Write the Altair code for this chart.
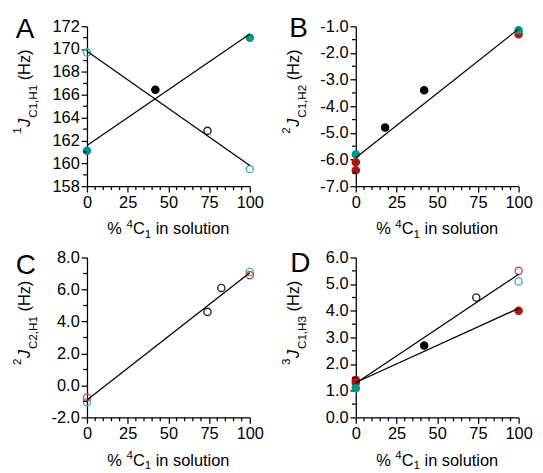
import altair as alt
import pandas as pd

FONT = "Liberation Sans"
W, H = 169, 166
FS = 17      # main text size
SS = 12      # sub/superscript size

COLORS = {
    "teal": ("#00968a", "#00968a"),
    "teal_open": ("transparent", "#35b3b3"),
    "red": ("#b0140e", "#b0140e"),
    "red_open": ("transparent", "#cc4c46"),
    "black": ("#000000", "#000000"),
    "black_open": ("transparent", "#222222"),
}

X_MAJOR = [0, 25, 50, 75, 100]
X_MINOR = [5, 10, 15, 20, 30, 35, 40, 45, 55, 60, 65, 70, 80, 85, 90, 95]

# ---- Panel A: 1J C1,H1
A_X = [0, 42, 100, 0, 74, 100]
A_Y = [161.1, 166.45, 171.0, 169.7, 162.85, 159.5]
A_STYLE = ["teal", "black", "teal", "teal_open", "black_open", "teal_open"]
A_FIT = ["a", "a", "a", "b", "b", "b"]
A_YMAJOR = [158, 160, 162, 164, 166, 168, 170, 172]
A_YMINOR = [159, 161, 163, 165, 167, 169, 171]

# ---- Panel B: 2J C1,H2
B_X = [0, 0, 0, 18, 42, 100, 100]
B_Y = [-6.1, -6.4, -5.8, -4.8, -3.4, -1.3, -1.15]
B_STYLE = ["red", "red", "teal", "black", "black", "red", "teal"]
B_FIT = ["a"] * 7
B_YMAJOR = [-7, -6, -5, -4, -3, -2, -1]
B_YMINOR = [-6.5, -5.5, -4.5, -3.5, -2.5, -1.5]

# ---- Panel C: 2J C2,H1
C_X = [0, 0, 74, 82.5, 100, 100]
C_Y = [-1.05, -0.75, 4.6, 6.1, 7.1, 6.9]
C_STYLE = ["teal_open", "red_open", "black_open", "black_open", "teal_open", "red_open"]
C_FIT = ["a"] * 6
C_YMAJOR = [-2, 0, 2, 4, 6, 8]
C_YMINOR = [-1, 1, 3, 5, 7]

# ---- Panel D: 3J C1,H3
D_X = [0, 0, 0, 42, 100, 74, 100, 100]
D_Y = [1.3, 1.4, 1.1, 2.7, 4.0, 4.5, 5.5, 5.1]
D_STYLE = ["red", "red", "teal", "black", "red", "black_open", "red_open", "teal_open"]
D_FIT = ["a|b", "a|b", "a|b", "a", "a", "b", "b", "b"]
D_YMAJOR = [0, 1, 2, 3, 4, 5, 6]
D_YMINOR = [0.5, 1.5, 2.5, 3.5, 4.5, 5.5]

ADV = {"%": 0.889, " ": 0.278, "C": 0.722, "H": 0.722, "J": 0.5, ",": 0.278,
       "(": 0.333, ")": 0.333, "z": 0.5, "i": 0.222, "n": 0.556, "s": 0.5,
       "o": 0.556, "l": 0.222, "u": 0.556, "t": 0.278}


def tw(s, size):
    return sum(ADV.get(c, 0.556) for c in s) * size


def axis_common():
    return dict(grid=False, domainColor="black", tickColor="black", domainWidth=1.3,
                tickWidth=1.3, tickSize=6, labelFont=FONT, labelFontSize=FS,
                labelColor="black", title=None, labelOverlap=False, labelFlush=False)


def text_piece(txt, x, y, size, italic=False, angle=0, align="left"):
    df = pd.DataFrame({"t": [txt]})
    kw = dict(font=FONT, fontSize=size, align=align, baseline="alphabetic",
              color="black", angle=angle)
    if italic:
        kw["fontStyle"] = "italic"
    return alt.Chart(df).mark_text(**kw).encode(
        text="t:N", x=alt.value(x), y=alt.value(y))


def ytitle(sup, sub, top, bx=-59):
    total = tw(sup, SS) + tw("J", FS) + 1.5 + tw(sub, SS) + tw(" (Hz)", FS)
    y = top + total
    parts = [text_piece(sup, bx - 9, y, SS, angle=270)]
    y -= tw(sup, SS) + 0.5
    parts.append(text_piece("J", bx, y, FS, italic=True, angle=270))
    y -= tw("J", FS) + 1
    parts.append(text_piece(sub, bx + 7, y, SS, angle=270))
    y -= tw(sub, SS) + tw(" ", FS)
    parts.append(text_piece("(Hz)", bx, y, FS, angle=270))
    return parts


def xtitle(by=H + 50):
    segs = [("% ", FS, 0), ("4", SS, -7), ("C", FS, 0), ("1", SS, 4),
            (" in solution", FS, 0)]
    total = sum(tw(s, sz) for s, sz, _ in segs)
    x = W / 2 - total / 2
    parts = []
    for s, sz, dy in segs:
        if s.startswith(" "):
            parts.append(text_piece(s[1:], x + tw(" ", sz), by + dy, sz))
        else:
            parts.append(text_piece(s.rstrip(), x, by + dy, sz))
        x += tw(s, sz)
    return parts


def panel(xs, ys, styles, fits, ydom, ymajor, yminor, decimals, letter, ldx, ldy,
          sup, sub, ttop=24):
    df = pd.DataFrame({"x": xs, "y": ys, "style": styles, "fit": fits})
    df["fill"] = [COLORS[s][0] for s in styles]
    df["stroke"] = [COLORS[s][1] for s in styles]
    fitdf = df.assign(fit=df["fit"].str.split("|")).explode("fit")

    x_axis = alt.Axis(values=X_MAJOR, labelPadding=3, **axis_common())
    if decimals:
        lab = "(datum.value < 0 ? '-' : '') + format(abs(datum.value), '.1f')"
        y_axis = alt.Axis(values=ymajor, labelExpr=lab, labelPadding=2, **axis_common())
    else:
        y_axis = alt.Axis(values=ymajor, labelPadding=2, **axis_common())
    xs_ = alt.Scale(domain=[0, 100], nice=False)
    ys_ = alt.Scale(domain=ydom, nice=False, zero=False)

    pts = alt.Chart(df).mark_circle(size=56, strokeWidth=1.4, opacity=1).encode(
        x=alt.X("x:Q", scale=xs_, axis=x_axis),
        y=alt.Y("y:Q", scale=ys_, axis=y_axis),
        fill=alt.Fill("fill:N", scale=None),
        stroke=alt.Stroke("stroke:N", scale=None),
        order=alt.Order("idx:Q"),
    ).transform_window(idx="row_number()")

    lines = alt.Chart(fitdf).transform_regression(
        "x", "y", groupby=["fit"]).mark_line(color="black", strokeWidth=1.3).encode(
        x=alt.X("x:Q", scale=xs_, axis=x_axis),
        y=alt.Y("y:Q", scale=ys_, axis=y_axis),
        detail="fit:N")

    xminor = alt.Chart(pd.DataFrame({"v": X_MINOR})).mark_rule(
        color="black", strokeWidth=1.3).encode(
        x=alt.X("v:Q", scale=xs_, axis=x_axis), y=alt.value(H), y2=alt.value(H + 4))
    yminor_ = alt.Chart(pd.DataFrame({"v": yminor})).mark_rule(
        color="black", strokeWidth=1.3).encode(
        y=alt.Y("v:Q", scale=ys_, axis=y_axis), x=alt.value(0), x2=alt.value(-4))

    layers = ([pts, lines, xminor, yminor_, text_piece(letter, ldx, ldy, 29)]
              + ytitle(sup, sub, ttop) + xtitle())
    return alt.layer(*layers).properties(width=W, height=H)


pA = panel(A_X, A_Y, A_STYLE, A_FIT, [158, 172], A_YMAJOR, A_YMINOR, False,
           "A", -74, 12, "1", "C1,H1")
pB = panel(B_X, B_Y, B_STYLE, B_FIT, [-7, -1], B_YMAJOR, B_YMINOR, True,
           "B", -69, 11, "2", "C1,H2")
pC = panel(C_X, C_Y, C_STYLE, C_FIT, [-2, 8], C_YMAJOR, C_YMINOR, True,
           "C", -74, 17, "2", "C2,H1")
pD = panel(D_X, D_Y, D_STYLE, D_FIT, [0, 6], D_YMAJOR, D_YMINOR, True,
           "D", -68, 15, "3", "C1,H3")

chart = alt.vconcat(
    alt.hconcat(pA, pB, spacing=17),
    alt.hconcat(pC, pD, spacing=17),
    spacing=9,
).properties(padding={"left": 4, "top": -2, "right": 2, "bottom": 2}).configure_view(stroke=None)

chart.save("out.html", embed_options={"renderer": "svg", "actions": False})
